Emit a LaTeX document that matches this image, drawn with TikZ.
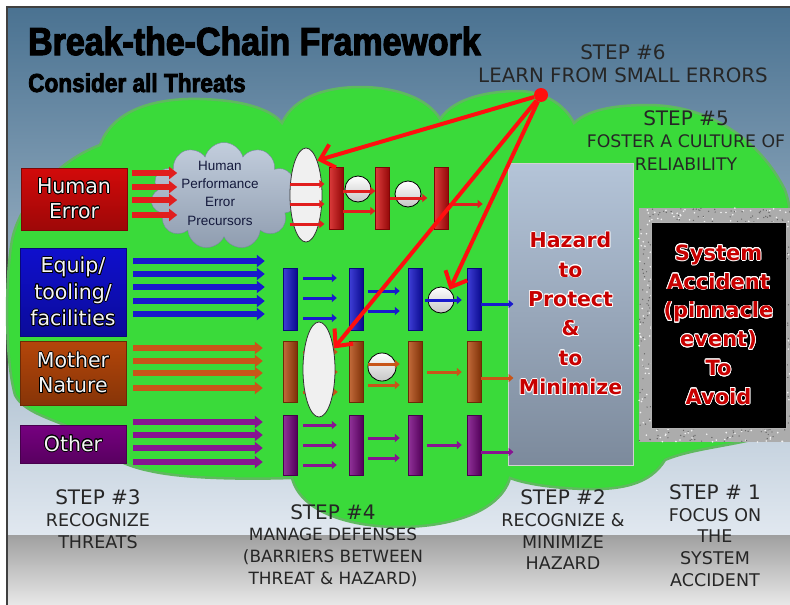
\documentclass[tikz,border=0pt]{standalone}
\usepackage{fontspec}
\setmainfont{Liberation Sans}
\newfontfamily\verd{DejaVu Sans}
\newfontfamily\impact[FakeStretch=0.87,BoldFeatures={FakeBold=3}]{Liberation Sans}
\usepackage{contour}
\contourlength{0.8pt}
\usetikzlibrary{shapes.geometric,shapes.symbols,arrows.meta,calc}

\definecolor{bgtop}{RGB}{74,114,145}
\definecolor{bgmid}{RGB}{160,172,195}
\definecolor{bgbot}{RGB}{225,232,240}
\definecolor{cloudgreen}{RGB}{58,218,58}
\definecolor{cloudedge}{RGB}{95,185,95}
\definecolor{herrred}{RGB}{210,10,10}
\definecolor{eqblue}{RGB}{15,15,205}
\definecolor{mnbrown}{RGB}{180,70,10}
\definecolor{othpurple}{RGB}{118,0,128}
\definecolor{herrline}{RGB}{225,30,30}
\definecolor{eqline}{RGB}{25,25,205}
\definecolor{mnline}{RGB}{200,85,25}
\definecolor{othline}{RGB}{135,20,145}
\definecolor{precgray}{RGB}{168,184,206}
\definecolor{precedge}{RGB}{120,135,160}
\definecolor{navytext}{RGB}{20,25,60}
\definecolor{hazt}{RGB}{180,196,216}
\definecolor{hazb}{RGB}{124,138,156}
\definecolor{hazred}{RGB}{200,0,0}
\definecolor{learnred}{RGB}{255,15,15}
\definecolor{granite}{RGB}{172,172,172}

\newcommand{\outl}[1]{\contour{black}{#1}}
\newcommand{\hazl}[1]{\contour{white}{#1}}
\newcommand{\steptitle}{\fontsize{20}{21.7}\selectfont}

\tikzset{
  threat/.style={draw=#1!60!black,top color=#1,bottom color=#1!75!black,
    minimum width=106pt,inner sep=0pt,align=center,text=gray!8,
    font=\verd\fontsize{20.5}{25}\selectfont},
  tharrow/.style={draw=#1,line width=5.5pt,-{Triangle[length=8pt,width=12pt]}},
  barrier/.style={draw=#1!60!black,left color=#1!80!white,right color=#1!70!black,
    minimum width=14pt,minimum height=62pt,inner sep=0pt},
  defarrow/.style={draw=#1,line width=3pt,-{Triangle[length=5pt,width=8pt]}},
  sphere/.style={circle,draw=black,line width=0.8pt,top color=white,
    bottom color=gray!45,minimum size=26pt,inner sep=0pt},
  lens/.style={ellipse,draw=black!80,line width=0.8pt,fill=gray!12,
    minimum width=32pt,minimum height=95pt,inner sep=0pt},
  precloud/.style={cloud,cloud puffs=11,aspect=1.35,draw=precedge,
    top color=precgray!70!white,bottom color=precgray!85!black,
    minimum width=146pt,minimum height=107pt,inner sep=0pt},
  fbarrow/.style={draw=learnred,line width=4pt,-{Straight Barb[length=13pt,width=24pt]}},
  steptxt/.style={align=center,inner sep=0pt,text=black!85,
    font=\verd\fontsize{17.5}{21.7}\selectfont},
}

\begin{document}
\begin{tikzpicture}[x=1pt,y=-1pt]
\useasboundingbox (0,0) rectangle (790,605);
% backdrop
\fill[white] (0,0) rectangle (790,605);
\shade[top color=bgtop,middle color=bgmid,bottom color=bgbot] (7,7) rectangle (790,535);
\shade[top color=gray!75,bottom color=gray!18] (7,535) rectangle (790,605);
\draw[black!75,line width=1.2pt] (7,605) -- (7,7) -- (790,7);
% green cloud
\draw[draw=cloudedge,fill=cloudgreen,line width=2.5pt] (100,145)
  .. controls (115,105) and (165,98) .. (200,99) .. controls (240,100) and (270,108) .. (282,123)
  .. controls (295,95) and (330,87) .. (360,87) .. controls (395,87) and (428,98) .. (440,119)
  .. controls (455,97) and (490,91) .. (520,91) .. controls (545,92) and (565,105) .. (574,123)
  .. controls (590,108) and (620,105) .. (650,105) .. controls (710,106) and (760,140) .. (785,190)
  .. controls (792,210) and (792,230) .. (791,260) -- (791,425)
  .. controls (760,445) and (700,445) .. (665,460)
  .. controls (650,485) and (620,490) .. (585,489) .. controls (545,488) and (520,482) .. (510,478)
  .. controls (500,512) and (450,527) .. (400,527) .. controls (345,527) and (300,510) .. (292,478)
  .. controls (260,479) and (190,480) .. (150,471) .. controls (120,465) and (100,452) .. (85,435)
  .. controls (60,420) and (25,415) .. (15,395) .. controls (5,360) and (5,280) .. (12,240)
  .. controls (20,200) and (60,160) .. (100,145) -- cycle;

% threats
\node[threat=herrred,minimum height=62pt] (herr) at (74,199) {\outl{Human}\\\outl{Error}};
\node[threat=eqblue,minimum height=88pt,font=\verd\fontsize{20.5}{26.5}\selectfont] (equip)
  at (73,292) {\outl{Equip/}\\\outl{tooling/}\\\outl{facilities}};
\node[threat=mnbrown,minimum height=64pt] (mnat) at (73,373) {\outl{Mother}\\\outl{Nature}};
\node[threat=othpurple,minimum height=38pt] (other) at (73,444) {\outl{Other}};

% precursors
\node[precloud] (hpc) at (224,196) {};
\node[align=center,text=navytext,inner sep=0pt,font=\fontsize{13.5}{18.3}\selectfont]
  (hpclabel) at (220,193) {Human\\Performance\\Error\\Precursors};

% barriers
\node[barrier=herrred] (rb1) at (336,198) {};
\node[barrier=herrred] (rb2) at (382.5,198) {};
\node[barrier=herrred] (rb3) at (441.5,198) {};
\foreach \n/\x in {1/290,2/356,3/415,4/474} {
  \node[barrier=eqblue] (bb\n) at (\x,299) {};
  \node[barrier=mnbrown,minimum height=61pt] (ob\n) at (\x,371.5) {};
  \node[barrier=othpurple,minimum height=60pt] (pb\n) at (\x,445) {};
}
\node[lens,minimum height=94pt] (rell) at (306,195) {};
\node[sphere] (rs1) at (358,189) {};
\node[sphere] (rs2) at (408,194) {};
\node[sphere] (bsph) at (441,300) {};
\node[sphere,minimum size=28pt] (os1) at (382,367) {};

% threat arrows
\foreach \y in {173,187,200,215}
  \draw[tharrow=herrline] ($(herr.east |- 0,\y)+(5,0)$) -- ++(45,0);
\foreach \y in {261,274,287,301,314}
  \draw[tharrow=eqline] ($(equip.east |- 0,\y)+(7,0)$) -- ($(bb1.west |- 0,\y)+(-18,0)$);
\foreach \y in {348,361,373,388}
  \draw[tharrow=mnline] ($(mnat.east |- 0,\y)+(7,0)$) -- ($(ob1.west |- 0,\y)+(-20,0)$);
\foreach \y in {422,435,448,462}
  \draw[tharrow=othline] ($(other.east |- 0,\y)+(7,0)$) -- ($(pb1.west |- 0,\y)+(-20,0)$);

% red row
\foreach \y in {184,204,224}
  \draw[defarrow=herrline] (rell.west |- 0,\y) -- ($(rell.east |- 0,\y)+(2,0)$);
\foreach \y in {191,211}
  \draw[defarrow=herrline] (rb1.east |- 0,\y) -- (rb2.west |- 0,\y);
\draw[defarrow=herrline] (rb2.east |- 0,198) -- ($(rb3.west |- 0,198)+(-7,0)$);
% blue row
\foreach \y in {278,298,318}
  \draw[defarrow=eqline] ($(bb1.east |- 0,\y)+(6,0)$) -- ($(bb2.west |- 0,\y)+(-12,0)$);
\foreach \y in {291,311}
  \draw[defarrow=eqline] ($(bb2.east |- 0,\y)+(5,0)$) -- ($(bb3.west |- 0,\y)+(-8,0)$);
\draw[defarrow=eqline] ($(bb3.east |- 0,300)+(3,0)$) -- ($(bb4.west |- 0,300)+(-5,0)$);
% brown row
\foreach \y in {352,372,392}
  \draw[defarrow=mnline] ($(ob1.east |- 0,\y)+(6,0)$) -- ($(ob2.west |- 0,\y)+(-11,0)$);
\node[lens] (oell) at (319,369.5) {};
\foreach \y in {364,385}
  \draw[defarrow=mnline] ($(ob2.east |- 0,\y)+(5,0)$) -- ($(ob3.west |- 0,\y)+(-8,0)$);
\draw[defarrow=mnline] ($(ob3.east |- 0,372)+(5,0)$) -- ($(ob4.west |- 0,372)+(-5,0)$);
% purple row
\foreach \y in {425,445,465}
  \draw[defarrow=othline] ($(pb1.east |- 0,\y)+(6,0)$) -- ($(pb2.west |- 0,\y)+(-12,0)$);
\foreach \y in {438,458}
  \draw[defarrow=othline] ($(pb2.east |- 0,\y)+(5,0)$) -- ($(pb3.west |- 0,\y)+(-8,0)$);
\draw[defarrow=othline] ($(pb3.east |- 0,445)+(5,0)$) -- ($(pb4.west |- 0,445)+(-5,0)$);

% hazard and accident
\node[draw=gray!35,line width=1pt,top color=hazt,bottom color=hazb,minimum width=125pt,
  minimum height=302pt,inner sep=0pt,align=center,text=hazred,
  font=\verd\bfseries\fontsize{20.5}{29.4}\selectfont] (hazard) at (570.5,314)
  {\hazl{Hazard}\\\hazl{to}\\\hazl{Protect}\\\hazl{\&}\\\hazl{to}\\\hazl{Minimize}};
\node[fill=granite,minimum width=151pt,minimum height=234pt] (sysframe) at (714.5,325) {};
\pgfmathsetseed{7}
\foreach \i in {1,...,600}
  \fill[white!90!gray] ({639+151*rnd},{208+234*rnd}) circle (0.9);
\foreach \i in {1,...,600}
  \fill[black!60] ({639+151*rnd},{208+234*rnd}) circle (0.7);
\node[fill=black,draw=gray!60,minimum width=135pt,minimum height=206pt,inner sep=0pt,
  align=center,text=hazred,font=\verd\bfseries\fontsize{21}{28.8}\selectfont] (sysacc)
  at (718.5,325) {\hazl{System}\\\hazl{Accident}\\\hazl{(pinnacle}\\\hazl{event)}\\\hazl{To}\\\hazl{Avoid}};

% into the hazard
\draw[defarrow=herrline] (rb3.east |- 0,204) -- ++(34,0);
\draw[defarrow=eqline] (bb4.east |- 0,304) -- ($(hazard.west |- 0,304)+(6,0)$);
\draw[defarrow=mnline] (ob4.east |- 0,378) -- ($(hazard.west |- 0,378)+(6,0)$);
\draw[defarrow=othline] (pb4.east |- 0,452) -- ($(hazard.west |- 0,452)+(6,0)$);

% learning from small errors
\node[circle,fill=learnred,inner sep=0pt,minimum size=14pt] (learn) at (541,95) {};
\draw[fbarrow] (learn) -- (rell.72);
\draw[fbarrow] (learn) -- (oell.55);
\draw[fbarrow] (learn) -- (bsph.50);

% titles
\node[anchor=base west,inner sep=0pt,font=\impact\bfseries\fontsize{39}{39}\selectfont]
  (title) at (28,55) {Break-the-Chain Framework};
\node[anchor=base west,inner sep=0pt,font=\impact\bfseries\fontsize{26}{26}\selectfont]
  (subtitle) at (28,92) {Consider all Threats};

% steps
\node[steptxt,font=\verd\fontsize{19.8}{23}\selectfont] (step6) at (623,63.5)
  {{\steptitle STEP \#6}\\LEARN FROM SMALL ERRORS};
\node[steptxt,font=\verd\fontsize{17.3}{22.5}\selectfont] (step5) at (686,140.5)
  {{\steptitle STEP \#5}\\FOSTER A CULTURE OF\\RELIABILITY};
\node[steptxt] (step3) at (98,519) {{\steptitle STEP \#3}\\RECOGNIZE\\THREATS};
\node[steptxt,font=\verd\fontsize{16.9}{21.7}\selectfont] (step4) at (333,545.5)
  {{\steptitle STEP \#4}\\MANAGE DEFENSES\\(BARRIERS BETWEEN\\THREAT \& HAZARD)};
\node[steptxt] (step2) at (563,530) {{\steptitle STEP \#2}\\RECOGNIZE \&\\MINIMIZE\\HAZARD};
\node[steptxt] (step1) at (715,535.5) {{\steptitle STEP \# 1}\\FOCUS ON\\THE\\SYSTEM\\ACCIDENT};
\end{tikzpicture}
\end{document}
